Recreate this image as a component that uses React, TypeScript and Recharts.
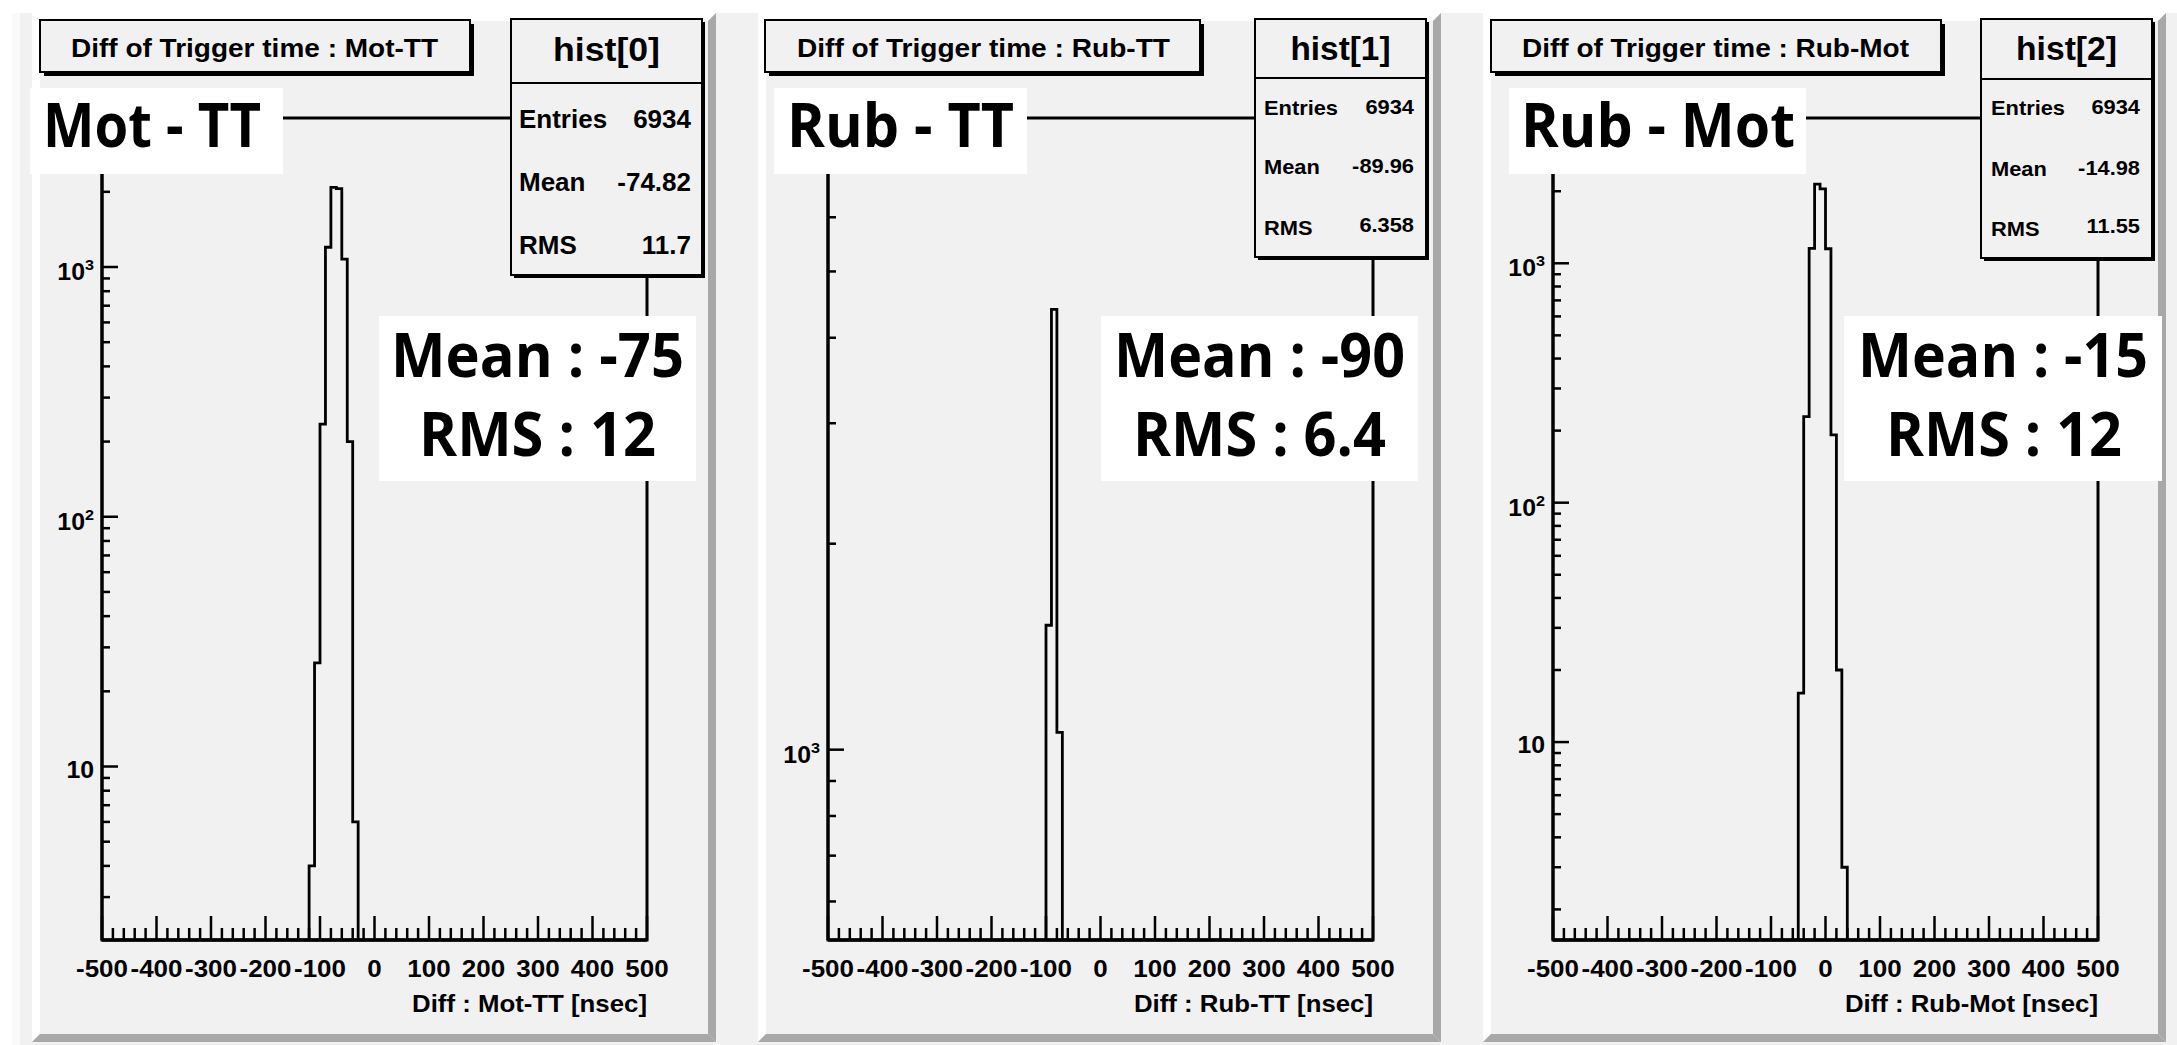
import React from "react";
import { LineChart, Line, XAxis, YAxis, ReferenceArea } from "recharts";

const PAGE_W = 2177;
const PAGE_H = 1045;
const ROOT_FONT = "'Liberation Sans', Arial, Helvetica, sans-serif";
const SLIDE_FONT = "'Open Sans', 'Noto Sans', sans-serif";
const PAD_FILL = "#f1f1f1";
const PAD_SHADOW = "#a8a8a8";
const STRETCH = 1.08;

// binning of the three histograms (nsec)
const BIN_WIDTH = 10;
const X_DOMAIN: [number, number] = [-500, 500];
const xMajorTicks = [-500, -400, -300, -200, -100, 0, 100, 200, 300, 400, 500];
const X_MINOR_PER_MAJOR = 5;

// hist[0] : Mot - TT
const motTTBinLows = [-120, -110, -100, -90, -80, -70, -60, -50, -40];
const motTTCounts = [4, 26, 235, 1200, 2085, 2060, 1076, 200, 6];
const motTTYTicks = [3, 4, 5, 6, 7, 8, 9, 10, 20, 30, 40, 50, 60, 70, 80, 90, 100, 200, 300, 400, 500, 600, 700, 800, 900, 1000, 2000, 3000];
const motTTYRange: [number, number] = [2.02, 3950];

// hist[1] : Rub - TT
const rubTTBinLows = [-100, -90, -80];
const rubTTCounts = [1520, 4400, 1060];
const rubTTYTicks = [600, 700, 800, 900, 1000, 2000, 3000, 4000, 5000, 6000, 7000, 8000];
const rubTTYRange: [number, number] = [527, 8380];

// hist[2] : Rub - Mot
const rubMotBinLows = [-50, -40, -30, -20, -10, 0, 10, 20, 30];
const rubMotCounts = [16, 229, 1155, 2140, 2045, 1150, 192, 20, 3];
const rubMotYTicks = [2, 3, 4, 5, 6, 7, 8, 9, 10, 20, 30, 40, 50, 60, 70, 80, 90, 100, 200, 300, 400, 500, 600, 700, 800, 900, 1000, 2000, 3000, 4000];
const rubMotYRange: [number, number] = [1.49, 4045];

const histNames = ["hist[0]", "hist[1]", "hist[2]"];
const histTitles = ["Diff of Trigger time : Mot-TT", "Diff of Trigger time : Rub-TT", "Diff of Trigger time : Rub-Mot"];
const axisTitles = ["Diff : Mot-TT [nsec]", "Diff : Rub-TT [nsec]", "Diff : Rub-Mot [nsec]"];
const statLabels = ["Entries", "Mean", "RMS"];
const statEntries = ["6934", "6934", "6934"];
const statMeans = ["-74.82", "-89.96", "-14.98"];
const statRms = ["11.7", "6.358", "11.55"];
const slideLabels = ["Mot - TT", "Rub - TT", "Rub - Mot"];
const slideMeans = ["Mean : -75", "Mean : -90", "Mean : -15"];
const slideRms = ["RMS : 12", "RMS : 6.4", "RMS : 12"];

const histBins = [motTTBinLows, rubTTBinLows, rubMotBinLows];
const histCounts = [motTTCounts, rubTTCounts, rubMotCounts];
const histYTicks = [motTTYTicks, rubTTYTicks, rubMotYTicks];
const histYRanges = [motTTYRange, rubTTYRange, rubMotYRange];

// page geometry
const PLOT_TOP = 118;
const PLOT_BOTTOM = 940;
const PLOT_W = 545;
const PAD_TOP = 13;
const PAD_BOTTOM = 1042;
const BEVEL = 8;
const Y_AXIS_W = 60;
const X_AXIS_H = 60;

const layouts = [
  {
    plotLeft: 102,
    pad: [32, 716],
    title: { x: 40, w: 430, textX: 71, textW: 367 },
    stats: { x: 511, w: 191, bottom: 275, divider: 83, headY: 61, headW: 107, font: 25, labelX: 519, valueX: 691, labelY: [128, 191, 254], valueY: [128, 191, 254] },
    label: { x: 30, w: 253, textX: 43, textW: 218 },
    box: { x: 379, w: 317, meanX: 391, meanW: 293, rmsX: 419, rmsW: 237 },
    axisTitleW: 235,
  },
  {
    plotLeft: 828,
    pad: [758, 1441],
    title: { x: 765, w: 435, textX: 797, textW: 373 },
    stats: { x: 1255, w: 171, bottom: 257, divider: 78, headY: 60, headW: 100, font: 21, labelX: 1264, valueX: 1414, labelY: [115, 174, 235], valueY: [114, 173, 232] },
    label: { x: 774, w: 253, textX: 787, textW: 227 },
    box: { x: 1101, w: 317, meanX: 1114, meanW: 291, rmsX: 1133, rmsW: 253 },
    axisTitleW: 239,
  },
  {
    plotLeft: 1553,
    pad: [1483, 2166],
    title: { x: 1491, w: 450, textX: 1522, textW: 387 },
    stats: { x: 1981, w: 171, bottom: 258, divider: 79, headY: 60, headW: 101, font: 21, labelX: 1991, valueX: 2140, labelY: [115, 176, 236], valueY: [114, 175, 233] },
    label: { x: 1509, w: 297, textX: 1521, textW: 274 },
    box: { x: 1844, w: 318, meanX: 1858, meanW: 290, rmsX: 1886, rmsW: 236 },
    axisTitleW: 253,
  },
];

function buildXTicks() {
  const ticks: number[] = [];
  xMajorTicks.forEach((t, i) => {
    ticks.push(t);
    if (i < xMajorTicks.length - 1) {
      const step = (xMajorTicks[i + 1] - t) / X_MINOR_PER_MAJOR;
      for (let k = 1; k < X_MINOR_PER_MAJOR; k++) ticks.push(t + k * step);
    }
  });
  return ticks;
}
const xTicks = buildXTicks();

// ROOT-style outline: each bin is a step, closed down to the axis floor
function histOutline(lows: number[], counts: number[], floor: number) {
  const pts = [{ x: lows[0], y: floor }];
  lows.forEach((lo, i) => pts.push({ x: lo, y: counts[i] }));
  pts.push({ x: lows[lows.length - 1] + BIN_WIDTH, y: floor });
  return pts;
}

function XTick(props: any) {
  const { x, y, payload } = props;
  const v = payload.value as number;
  const major = xMajorTicks.includes(v);
  return (
    <g>
      <line x1={x} y1={y} x2={x} y2={y - (major ? 24 : 12)} stroke="#000" strokeWidth={2.5} />
      {major && (
        <g transform={`translate(${x},${y + 36.5}) scale(1.06,1)`}>
          <text x={0} y={0} textAnchor="middle" fontFamily={ROOT_FONT} fontWeight="bold" fontSize={24.5} fill="#000">
            {String(v)}
          </text>
        </g>
      )}
    </g>
  );
}

function YTick(props: any) {
  const { x, y, payload } = props;
  const v = payload.value as number;
  const e = Math.log10(v);
  const p = Math.round(e);
  const major = Math.abs(e - p) < 1e-6;
  return (
    <g>
      <line x1={x} y1={y} x2={x + (major ? 16 : 8)} y2={y} stroke="#000" strokeWidth={2.5} />
      {major && (
        <g transform={`translate(${x - 8},${y + (p === 1 ? 11 : 13)}) scale(${STRETCH},1)`}>
          <text x={0} y={0} textAnchor="end" fontFamily={ROOT_FONT} fontWeight="bold" fontSize={23} fill="#000">
            10
            {p > 1 && (
              <tspan dy={-10} fontSize={15}>
                {p}
              </tspan>
            )}
          </text>
        </g>
      )}
    </g>
  );
}

function HistPanel({ index }: { index: number }) {
  const lay = layouts[index];
  const [yMin, yMax] = histYRanges[index];
  const data = histOutline(histBins[index], histCounts[index], yMin);
  const chartLeft = lay.plotLeft - 100;
  const chartW = PLOT_W + 200;
  return (
    <div style={{ position: "absolute", left: chartLeft, top: 0 }}>
      <LineChart
        width={chartW}
        height={PAGE_H}
        data={data}
        margin={{ top: PLOT_TOP, bottom: PAGE_H - PLOT_BOTTOM - X_AXIS_H, left: 100 - Y_AXIS_W, right: 100 }}
      >
        <XAxis
          dataKey="x"
          type="number"
          domain={X_DOMAIN}
          allowDataOverflow
          ticks={xTicks}
          interval={0}
          height={X_AXIS_H}
          tickSize={0}
          tickMargin={0}
          tickLine={false}
          axisLine={{ stroke: "#000", strokeWidth: 3.5 }}
          tick={XTick}
        />
        <YAxis
          type="number"
          scale="log"
          domain={[yMin, yMax]}
          allowDataOverflow
          ticks={histYTicks[index]}
          interval={0}
          width={Y_AXIS_W}
          tickSize={0}
          tickMargin={0}
          tickLine={false}
          axisLine={{ stroke: "#000", strokeWidth: 3 }}
          tick={YTick}
        />
        <ReferenceArea x1={X_DOMAIN[0]} x2={X_DOMAIN[1]} y1={yMin} y2={yMax} fill="none" stroke="#000" strokeWidth={3} ifOverflow="visible" />
        <Line
          type="stepAfter"
          dataKey="y"
          stroke="#000"
          strokeWidth={2.8}
          dot={false}
          activeDot={false}
          isAnimationActive={false}
        />
      </LineChart>
    </div>
  );
}

function PadBackground({ index }: { index: number }) {
  const [L, R] = layouts[index].pad;
  const T = PAD_TOP;
  const B = PAD_BOTTOM;
  const b = BEVEL;
  return (
    <g>
      <rect x={L} y={T} width={R - L} height={B - T} fill={PAD_FILL} />
      <polygon points={`${L},${T} ${R},${T} ${R - b},${T + b} ${L + b},${T + b}`} fill="#ffffff" />
      <polygon points={`${L},${T} ${L + b},${T + b} ${L + b},${B - b} ${L},${B}`} fill="#ffffff" />
      <polygon points={`${R},${T} ${R},${B} ${R - b},${B - b} ${R - b},${T + b}`} fill={PAD_SHADOW} />
      <polygon points={`${L},${B} ${R},${B} ${R - b},${B - b} ${L + b},${B - b}`} fill={PAD_SHADOW} />
    </g>
  );
}

function RootText({ x, y, size, children, anchor = "start", length }: any) {
  return (
    <text
      x={x}
      y={y}
      fontFamily={ROOT_FONT}
      fontWeight="bold"
      fontSize={size}
      fill="#000"
      textAnchor={anchor}
      textLength={length}
      lengthAdjust={length ? "spacingAndGlyphs" : undefined}
    >
      {children}
    </text>
  );
}

function SlideText({ x, y, size, length, children }: any) {
  return (
    <text x={x} y={y} fontFamily={SLIDE_FONT} fontWeight="bold" fontSize={size} fill="#000" textLength={length} lengthAdjust="spacingAndGlyphs">
      {children}
    </text>
  );
}

function PanelOverlay({ index }: { index: number }) {
  const lay = layouts[index];
  const t = lay.title;
  const s = lay.stats;
  const lb = lay.label;
  const bx = lay.box;
  const statValues = [statEntries[index], statMeans[index], statRms[index]];
  const plotRight = lay.plotLeft + PLOT_W;
  return (
    <g>
      {/* title pave */}
      <rect x={t.x + 4} y={24} width={t.w} height={52} fill="#000" />
      <rect x={t.x} y={20} width={t.w} height={52} fill={PAD_FILL} stroke="#000" strokeWidth={2} />
      <RootText x={t.textX} y={57} size={25.5} length={t.textW}>
        {histTitles[index]}
      </RootText>

      {/* stats box */}
      <rect x={s.x + 3} y={22} width={s.w} height={s.bottom - 19} fill="#000" />
      <rect x={s.x} y={19} width={s.w} height={s.bottom - 19} fill={PAD_FILL} stroke="#000" strokeWidth={2} />
      <line x1={s.x} y1={s.divider} x2={s.x + s.w} y2={s.divider} stroke="#000" strokeWidth={2} />
      <RootText x={s.x + s.w / 2 - s.headW / 2} y={s.headY} size={33} length={s.headW}>
        {histNames[index]}
      </RootText>
      {statLabels.map((name, i) => (
        <g key={name}>
          <g transform={`translate(${s.labelX},${s.labelY[i]}) scale(1.04,1)`}>
            <RootText x={0} y={0} size={s.font}>
              {name}
            </RootText>
          </g>
          <g transform={`translate(${s.valueX},${s.valueY[i]}) scale(1.04,1)`}>
            <RootText x={0} y={0} size={s.font} anchor="end">
              {statValues[i]}
            </RootText>
          </g>
        </g>
      ))}

      {/* x axis title */}
      <RootText x={plotRight - lay.axisTitleW} y={1012} size={24} length={lay.axisTitleW}>
        {axisTitles[index]}
      </RootText>

      {/* pasted slide labels */}
      <rect x={lb.x} y={88} width={lb.w} height={86} fill="#ffffff" />
      <SlideText x={lb.textX} y={147} size={60} length={lb.textW}>
        {slideLabels[index]}
      </SlideText>
      <rect x={bx.x} y={316} width={bx.w} height={165} fill="#ffffff" />
      <SlideText x={bx.meanX} y={377} size={61} length={bx.meanW}>
        {slideMeans[index]}
      </SlideText>
      <SlideText x={bx.rmsX} y={456} size={61} length={bx.rmsW}>
        {slideRms[index]}
      </SlideText>
    </g>
  );
}

export default function App() {
  const panels = [0, 1, 2];
  return (
    <div style={{ position: "absolute", left: 0, top: 0, width: PAGE_W, height: PAGE_H, background: "#ffffff", overflow: "hidden" }}>
      <svg width={PAGE_W} height={PAGE_H} style={{ position: "absolute", left: 0, top: 0 }}>
        <rect x={12} y={13} width={PAGE_W - 12} height={PAGE_H - 13} fill={PAD_FILL} />
        <rect x={12} y={13} width={8} height={PAGE_H - 13} fill="#fafafa" />
        {panels.map((i) => (
          <PadBackground key={i} index={i} />
        ))}
      </svg>
      {panels.map((i) => (
        <HistPanel key={i} index={i} />
      ))}
      <svg width={PAGE_W} height={PAGE_H} style={{ position: "absolute", left: 0, top: 0, pointerEvents: "none" }}>
        {panels.map((i) => (
          <PanelOverlay key={i} index={i} />
        ))}
      </svg>
    </div>
  );
}
